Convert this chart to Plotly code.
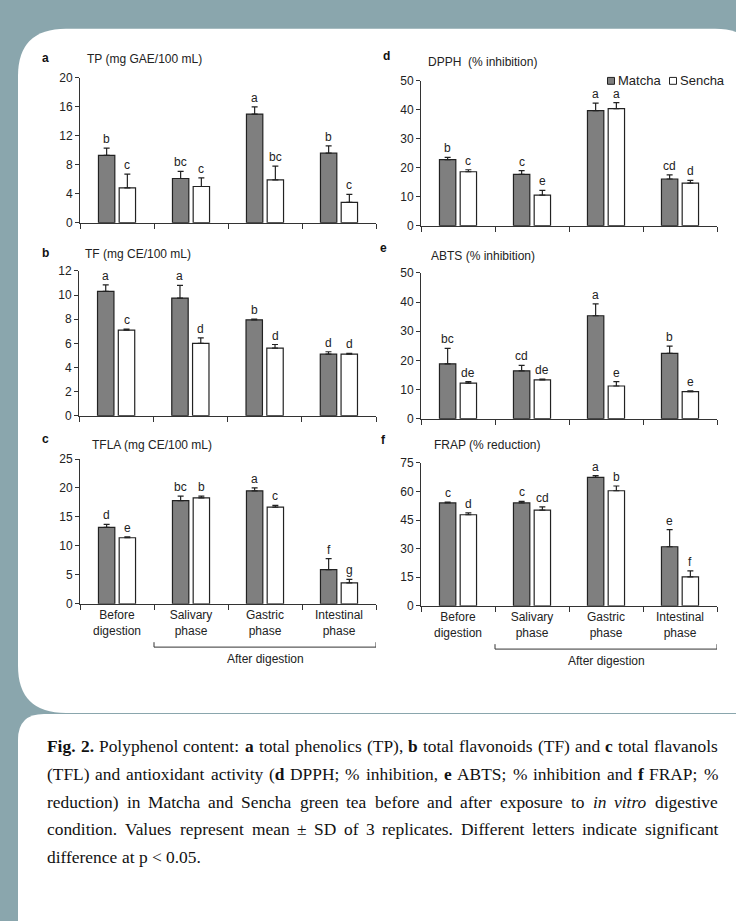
import plotly.graph_objects as go

W, H = 736, 921


def px(x):
    return x / W


def py(y):
    return 1 - y / H


# ---------------- data ----------------
categories = ["Before<br>digestion", "Salivary<br>phase", "Gastric<br>phase", "Intestinal<br>phase"]
series_names = ["Matcha", "Sencha"]

tp_matcha = [9.3, 6.1, 15.0, 9.6]
tp_matcha_sd = [1.0, 1.0, 1.0, 1.0]
tp_sencha = [4.8, 5.0, 5.9, 2.8]
tp_sencha_sd = [1.9, 1.2, 1.9, 1.1]
tp_letters_matcha = ["b", "bc", "a", "b"]
tp_letters_sencha = ["c", "c", "bc", "c"]

tf_matcha = [10.3, 9.75, 7.95, 5.1]
tf_matcha_sd = [0.55, 1.05, 0.05, 0.2]
tf_sencha = [7.1, 6.0, 5.6, 5.1]
tf_sencha_sd = [0.08, 0.45, 0.3, 0.06]
tf_letters_matcha = ["a", "a", "b", "d"]
tf_letters_sencha = ["c", "d", "d", "d"]

tfla_matcha = [13.2, 17.8, 19.5, 5.9]
tfla_matcha_sd = [0.5, 0.8, 0.5, 1.9]
tfla_sencha = [11.4, 18.3, 16.7, 3.6]
tfla_sencha_sd = [0.15, 0.3, 0.3, 0.6]
tfla_letters_matcha = ["d", "bc", "a", "f"]
tfla_letters_sencha = ["e", "b", "c", "g"]

dpph_matcha = [22.8, 17.7, 39.7, 16.1]
dpph_matcha_sd = [0.8, 1.3, 2.6, 1.4]
dpph_sencha = [18.6, 10.5, 40.4, 14.7]
dpph_sencha_sd = [0.7, 1.7, 2.1, 0.9]
dpph_letters_matcha = ["b", "c", "a", "cd"]
dpph_letters_sencha = ["c", "e", "a", "d"]

abts_matcha = [18.8, 16.4, 35.3, 22.4]
abts_matcha_sd = [5.3, 1.9, 4.1, 2.5]
abts_sencha = [12.2, 13.3, 11.2, 9.3]
abts_sencha_sd = [0.5, 0.3, 1.5, 0.25]
abts_letters_matcha = ["bc", "cd", "a", "b"]
abts_letters_sencha = ["de", "de", "e", "e"]

frap_matcha = [54.0, 54.0, 67.4, 31.0]
frap_matcha_sd = [0.4, 0.8, 0.9, 9.0]
frap_sencha = [47.8, 50.2, 60.4, 15.2]
frap_sencha_sd = [1.0, 1.7, 2.5, 3.1]
frap_letters_matcha = ["c", "c", "a", "e"]
frap_letters_sencha = ["d", "cd", "b", "f"]

panel_titles = ["TP (mg GAE/100 mL)", "TF (mg CE/100 mL)", "TFLA (mg CE/100 mL)",
                "DPPH  (% inhibition)", "ABTS (% inhibition)", "FRAP (% reduction)"]
panel_tags = ["a", "b", "c", "d", "e", "f"]
y_ranges = [20, 12, 25, 50, 50, 75]
y_dticks = [4, 2, 5, 10, 10, 15]

# caption words: (word, style) with style r=regular, b=bold, i=italic
caption_lines = [
    [("Fig.", "b"), ("2.", "b"), ("Polyphenol", "r"), ("content:", "r"), ("a", "b"),
     ("total", "r"), ("phenolics", "r"), ("(TP),", "r"), ("b", "b"), ("total", "r"),
     ("flavonoids", "r"), ("(TF)", "r"), ("and", "r"), ("c", "b"), ("total", "r"),
     ("flavanols", "r")],
    [("(TFL)", "r"), ("and", "r"), ("antioxidant", "r"), ("activity", "r"), ("(d", "rb"),
     ("DPPH;", "r"), ("%", "r"), ("inhibition,", "r"), ("e", "b"), ("ABTS;", "r"), ("%", "r"),
     ("inhibition", "r"), ("and", "r"), ("f", "b"), ("FRAP;", "r"), ("%", "r")],
    [("reduction)", "r"), ("in", "r"), ("Matcha", "r"), ("and", "r"), ("Sencha", "r"),
     ("green", "r"), ("tea", "r"), ("before", "r"), ("and", "r"), ("after", "r"),
     ("exposure", "r"), ("to", "r"), ("in", "i"), ("vitro", "i"), ("digestive", "r")],
    [("condition.", "r"), ("Values", "r"), ("represent", "r"), ("mean", "r"), ("±", "r"),
     ("SD", "r"), ("of", "r"), ("3", "r"), ("replicates.", "r"), ("Different", "r"),
     ("letters", "r"), ("indicate", "r"), ("significant", "r")],
    [("difference", "r"), ("at", "r"), ("p", "r"), ("<", "r"), ("0.05.", "r")],
]
caption_y = [750, 778.5, 807, 835, 863]

# ---------------- style ----------------
FONT = "Arial, Liberation Sans, sans-serif"
SERIF = "Times New Roman, Liberation Serif, serif"
INK = "#222222"
AX = "#333333"
MATCHA = "#7f7f7f"
SENCHA = "#ffffff"
BG = "#8aa6ad"
CAP_SIZE = 17.4
CAP_LEFT, CAP_RIGHT = 47, 718

# Times metrics (per 1000 em) for layout of justified caption text
TIMES_R = {" ": 250, "!": 333, "%": 833, "(": 333, ")": 333, ",": 250, "-": 333, ".": 250,
           "/": 278, ":": 278, ";": 278, "<": 564, "±": 564,
           "A": 722, "B": 667, "C": 667, "D": 722, "E": 611, "F": 556, "G": 722, "H": 722,
           "I": 333, "J": 389, "K": 722, "L": 611, "M": 889, "N": 722, "O": 722, "P": 556,
           "Q": 722, "R": 667, "S": 556, "T": 611, "U": 722, "V": 722, "W": 944, "X": 722,
           "Y": 722, "Z": 611,
           "a": 444, "b": 500, "c": 444, "d": 500, "e": 444, "f": 333, "g": 500, "h": 500,
           "i": 278, "j": 278, "k": 500, "l": 278, "m": 778, "n": 500, "o": 500, "p": 500,
           "q": 500, "r": 333, "s": 389, "t": 278, "u": 500, "v": 500, "w": 722, "x": 500,
           "y": 500, "z": 444}
for _d in "0123456789":
    TIMES_R[_d] = 500
TIMES_B = dict(TIMES_R)
TIMES_B.update({"F": 611, "a": 500, "b": 556, "c": 444, "d": 556, "e": 444, "f": 333,
                "g": 500, "i": 278, "2": 500, ".": 250})
TIMES_I = dict(TIMES_R)
TIMES_I.update({"i": 278, "n": 500, "v": 444, "t": 278, "r": 389, "o": 500})


def word_width(word, style):
    if style == "rb":  # "(" regular + bold rest
        return (TIMES_R["("] + sum(TIMES_B.get(c, 500) for c in word[1:])) * CAP_SIZE / 1000
    table = {"r": TIMES_R, "b": TIMES_B, "i": TIMES_I}[style]
    return sum(table.get(c, 500) for c in word) * CAP_SIZE / 1000


def word_markup(word, style):
    w = word.replace("<", "&lt;")
    if style == "b":
        return f"<b>{w}</b>"
    if style == "i":
        return f"<i>{w}</i>"
    if style == "rb":
        return f"({'<b>' + w[1:] + '</b>'}"
    return w


panels = [
    dict(m=tp_matcha, msd=tp_matcha_sd, s=tp_sencha, ssd=tp_sencha_sd,
         lm=tp_letters_matcha, ls=tp_letters_sencha,
         xd=(80, 376), yd=(72, 219), tag=(40, 52), title=(85, 53), labels=False),
    dict(m=tf_matcha, msd=tf_matcha_sd, s=tf_sencha, ssd=tf_sencha_sd,
         lm=tf_letters_matcha, ls=tf_letters_sencha,
         xd=(79, 376), yd=(268, 415), tag=(40, 250), title=(83, 251), labels=False),
    dict(m=tfla_matcha, msd=tfla_matcha_sd, s=tfla_sencha, ssd=tfla_sencha_sd,
         lm=tfla_letters_matcha, ls=tfla_letters_sencha,
         xd=(80, 376), yd=(459, 606), tag=(40, 439), title=(90, 445), labels=True),
    dict(m=dpph_matcha, msd=dpph_matcha_sd, s=dpph_sencha, ssd=dpph_sencha_sd,
         lm=dpph_letters_matcha, ls=dpph_letters_sencha,
         xd=(421, 717), yd=(75, 222), tag=(381, 50), title=(426, 56), labels=False),
    dict(m=abts_matcha, msd=abts_matcha_sd, s=abts_sencha, ssd=abts_sencha_sd,
         lm=abts_letters_matcha, ls=abts_letters_sencha,
         xd=(421, 717), yd=(270, 418), tag=(378, 245), title=(429, 253), labels=False),
    dict(m=frap_matcha, msd=frap_matcha_sd, s=frap_sencha, ssd=frap_sencha_sd,
         lm=frap_letters_matcha, ls=frap_letters_sencha,
         xd=(421, 717), yd=(463, 608), tag=(379, 440), title=(432, 445), labels=True),
]

fig = go.Figure()
annotations = []
shapes = []


def rounded_rect(x0, y0, x1, y1, r_tl, r_tr, r_bl, r_br):
    X = px
    Y = py
    p = f"M {X(x0 + r_tl)},{Y(y0)} L {X(x1 - r_tr)},{Y(y0)} "
    p += f"Q {X(x1)},{Y(y0)} {X(x1)},{Y(y0 + r_tr)} "
    p += f"L {X(x1)},{Y(y1 - r_br)} Q {X(x1)},{Y(y1)} {X(x1 - r_br)},{Y(y1)} "
    p += f"L {X(x0 + r_bl)},{Y(y1)} Q {X(x0)},{Y(y1)} {X(x0)},{Y(y1 - r_bl)} "
    p += f"L {X(x0)},{Y(y0 + r_tl)} Q {X(x0)},{Y(y0)} {X(x0 + r_tl)},{Y(y0)} Z"
    return p


# white background panels
shapes.append(dict(type="path", xref="paper", yref="paper", layer="below",
                   path=rounded_rect(18, 22, 760, 717, 48, 45, 48, 0),
                   fillcolor="white", line=dict(width=0)))
shapes.append(dict(type="path", xref="paper", yref="paper", layer="below",
                   path=rounded_rect(18, 718, 760, 960, 26, 0, 0, 0),
                   fillcolor="white", line=dict(width=0)))

layout_axes = {}
for i, p in enumerate(panels):
    n = i + 1
    xa = "x" if n == 1 else f"x{n}"
    ya = "y" if n == 1 else f"y{n}"
    xkey = "xaxis" if n == 1 else f"xaxis{n}"
    ykey = "yaxis" if n == 1 else f"yaxis{n}"

    for name, vals, sd, color in ((series_names[0], p["m"], p["msd"], MATCHA),
                                  (series_names[1], p["s"], p["ssd"], SENCHA)):
        fig.add_trace(go.Bar(
            name=name, x=categories, y=vals, xaxis=xa, yaxis=ya,
            marker=dict(color=color, line=dict(color=INK, width=1.2)),
            error_y=dict(type="data", symmetric=False, array=sd,
                         arrayminus=[0] * len(sd), color=INK, thickness=1.2, width=3),
            showlegend=False, offsetgroup=name,
        ))

    layout_axes[xkey] = dict(
        domain=[px(p["xd"][0]), px(p["xd"][1])], anchor=ya, type="category",
        range=[-0.5, 3.5], showline=True, linecolor=AX, linewidth=1,
        ticks="outside", tickson="boundaries", ticklen=5, tickcolor=AX, tickwidth=1,
        showgrid=False, zeroline=False, showticklabels=p["labels"],
        tickfont=dict(family=FONT, size=12, color=INK),
    )
    layout_axes[ykey] = dict(
        domain=[py(p["yd"][1]), py(p["yd"][0])], anchor=xa,
        range=[0, y_ranges[i]], dtick=y_dticks[i], tick0=0,
        showline=True, linecolor=AX, linewidth=1,
        ticks="outside", ticklen=4, tickcolor=AX, tickwidth=1,
        showgrid=False, zeroline=False,
        tickfont=dict(family=FONT, size=12, color=INK),
    )

    annotations.append(dict(xref="paper", yref="paper", x=px(p["tag"][0]), y=py(p["tag"][1]),
                            text=f"<b>{panel_tags[i]}</b>", showarrow=False,
                            xanchor="left", yanchor="middle",
                            font=dict(family=FONT, size=12, color="#111")))
    annotations.append(dict(xref="paper", yref="paper", x=px(p["title"][0]), y=py(p["title"][1]),
                            text=panel_titles[i], showarrow=False,
                            xanchor="left", yanchor="middle",
                            font=dict(family=FONT, size=12, color=INK)))

    for j, cat in enumerate(categories):
        for vals, sd, letters, shift in ((p["m"], p["msd"], p["lm"], -10.4),
                                         (p["s"], p["ssd"], p["ls"], 10.4)):
            annotations.append(dict(xref=xa, yref=ya, x=cat, y=vals[j] + sd[j],
                                    text=letters[j], showarrow=False, xshift=shift,
                                    yshift=0, xanchor="center", yanchor="bottom",
                                    font=dict(family=FONT, size=12, color=INK)))

    if p["labels"]:
        yb = p["yd"][1] + 44
        shapes.append(dict(type="path", xref=xa, yref="paper",
                           path=f"M 0.5,{py(yb - 5)} L 0.5,{py(yb)} L 3.5,{py(yb)} L 3.5,{py(yb - 5)}",
                           line=dict(color=AX, width=1)))
        annotations.append(dict(xref=xa, yref="paper", x=2.0, y=py(yb + 12.5),
                                text="After digestion", showarrow=False,
                                xanchor="center", yanchor="middle",
                                font=dict(family=FONT, size=12, color=INK)))

# legend (panel d)
shapes.append(dict(type="rect", xref="paper", yref="paper",
                   x0=px(607.5), x1=px(614.5), y0=py(78.5), y1=py(71.5),
                   fillcolor=MATCHA, line=dict(color=INK, width=1)))
shapes.append(dict(type="rect", xref="paper", yref="paper",
                   x0=px(669.5), x1=px(676.5), y0=py(78.5), y1=py(71.5),
                   fillcolor=SENCHA, line=dict(color=INK, width=1)))
annotations.append(dict(xref="paper", yref="paper", x=px(616), y=py(75), text=series_names[0],
                        showarrow=False, xanchor="left", yanchor="middle",
                        font=dict(family=FONT, size=13, color=INK)))
annotations.append(dict(xref="paper", yref="paper", x=px(678), y=py(75), text=series_names[1],
                        showarrow=False, xanchor="left", yanchor="middle",
                        font=dict(family=FONT, size=13, color=INK)))

# caption: each word placed so that lines are justified (last line flush left)
for li, (words, yy) in enumerate(zip(caption_lines, caption_y)):
    widths = [word_width(w, s) for w, s in words]
    last = li == len(caption_lines) - 1
    if last or len(words) < 2:
        gap = CAP_SIZE * 0.25
    else:
        gap = (CAP_RIGHT - CAP_LEFT - sum(widths)) / (len(words) - 1)
    xcur = CAP_LEFT
    for (w, s), wd in zip(words, widths):
        annotations.append(dict(xref="paper", yref="paper", x=px(xcur), y=py(yy),
                                text=word_markup(w, s), showarrow=False,
                                xanchor="left", yanchor="middle", borderpad=0, borderwidth=0,
                                font=dict(family=SERIF, size=CAP_SIZE, color="#111")))
        xcur += wd + gap

fig.update_layout(
    width=W, height=H, autosize=False,
    margin=dict(l=0, r=0, t=0, b=0),
    paper_bgcolor=BG, plot_bgcolor="rgba(0,0,0,0)",
    barmode="group", bargap=0.44, bargroupgap=0.21,
    showlegend=False,
    annotations=annotations, shapes=shapes,
    font=dict(family=FONT, size=12, color=INK),
    **layout_axes,
)

fig.write_html("out.html",
               config={"displayModeBar": False},
               post_script="document.body.style.margin='0';document.body.style.overflow='hidden';")
